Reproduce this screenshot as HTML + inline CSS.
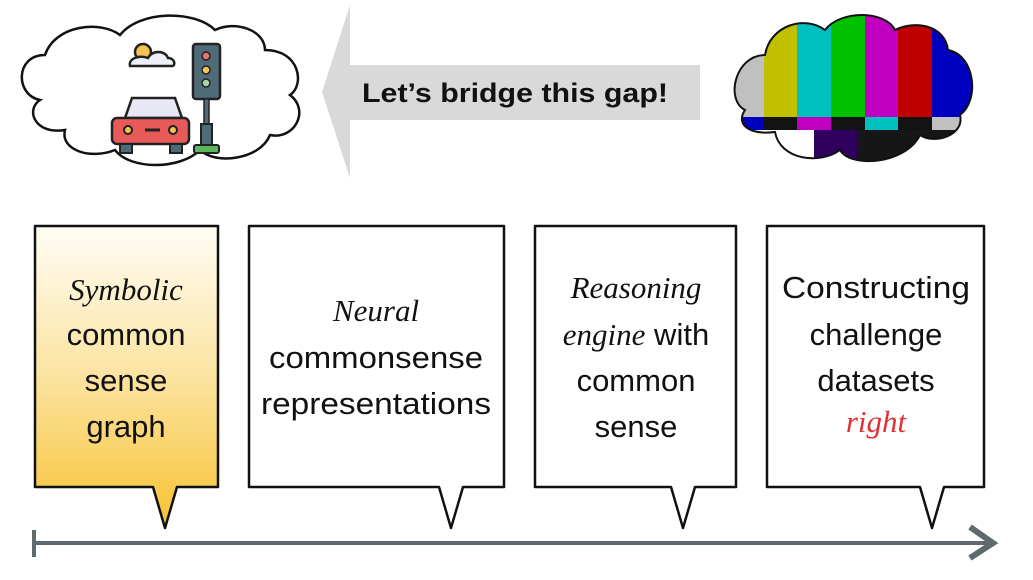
<!DOCTYPE html>
<html><head><meta charset="utf-8"><style>
html,body{margin:0;padding:0;background:#fff;width:1033px;height:580px;overflow:hidden}
.s{font-family:"Liberation Sans",sans-serif;font-size:31px;fill:#111;text-anchor:middle}
.h{font-family:"Liberation Serif",serif;font-style:italic;font-size:31px;fill:#111;text-anchor:middle}
</style></head><body>
<svg width="1033" height="580" viewBox="0 0 1033 580" xmlns="http://www.w3.org/2000/svg">
<defs>
<linearGradient id="g" x1="0" y1="0" x2="0" y2="1">
<stop offset="0" stop-color="#fffdf5"/><stop offset="0.5" stop-color="#fbe3a0"/><stop offset="1" stop-color="#f8c232"/>
</linearGradient>
<clipPath id="cc"><path d="M745,110 C725,100 735,55 765,55 C770,25 805,15 825,30 C840,10 885,10 895,30 C915,20 945,25 948,50 C975,55 980,100 960,115 C965,135 935,145 920,135 C905,165 850,168 840,150 C820,165 780,160 775,132 C750,135 735,125 745,110 Z"/></clipPath>
</defs>
<path d="M40,100 C15,95 15,55 45,55 C55,25 100,20 120,35 C140,10 195,10 215,30 C235,20 265,30 265,50 C300,50 305,85 290,95 C310,110 295,140 270,135 C260,160 215,165 200,150 C180,170 130,170 115,150 C90,160 60,150 65,130 C35,135 25,110 40,100 Z" fill="#fff" stroke="#111" stroke-width="2.5"/>
<circle cx="143" cy="52" r="8" fill="#f6c350" stroke="#222" stroke-width="2.5"/>
<path d="M130,66 C128,58 140,55 148,58 C152,50 165,50 168,58 C175,58 176,66 172,66 Z" fill="#eef0f8" stroke="#222" stroke-width="2.5"/>
<rect x="193" y="44" width="27" height="55" rx="3" fill="#4f6b78" stroke="#222" stroke-width="2.5"/>
<circle cx="206" cy="56" r="4" fill="#e57373" stroke="#222" stroke-width="1.5"/>
<circle cx="206" cy="70" r="4" fill="#f6c350" stroke="#222" stroke-width="1.5"/>
<circle cx="206" cy="83" r="4" fill="#a5d6a7" stroke="#222" stroke-width="1.5"/>
<rect x="204" y="99" width="5" height="25" fill="#4f6b78" stroke="#222" stroke-width="1.5"/>
<rect x="201" y="124" width="11" height="22" fill="#4f6b78" stroke="#222" stroke-width="2"/>
<rect x="194" y="145" width="25" height="8" rx="2" fill="#5cb85c" stroke="#222" stroke-width="2"/>
<path d="M125,118 L132,98 L175,98 L182,118 Z" fill="#e8e8f4" stroke="#222" stroke-width="2.5"/>
<rect x="112" y="118" width="77" height="26" rx="5" fill="#e85a5a" stroke="#222" stroke-width="2.5"/>
<rect x="120" y="144" width="12" height="9" fill="#4f6b78" stroke="#222" stroke-width="2"/>
<rect x="170" y="144" width="12" height="9" fill="#4f6b78" stroke="#222" stroke-width="2"/>
<circle cx="128" cy="130" r="4" fill="#f6c350" stroke="#222" stroke-width="2"/>
<circle cx="173" cy="130" r="4" fill="#f6c350" stroke="#222" stroke-width="2"/>
<line x1="145" y1="130" x2="160" y2="130" stroke="#222" stroke-width="3"/>
<path d="M322,92 L350,5 L350,65 L700,65 L700,120 L350,120 L350,178 Z" fill="#d9d9d9"/>
<text x="362" y="102" font-family="Liberation Sans,sans-serif" font-weight="bold" font-size="27" textLength="306" lengthAdjust="spacingAndGlyphs" fill="#111">Let’s bridge this gap!</text>
<g clip-path="url(#cc)">
<rect x="730" y="0" width="34" height="120" fill="#c0c0c0"/>
<rect x="764" y="0" width="33" height="120" fill="#c0c000"/>
<rect x="797" y="0" width="34" height="120" fill="#00c0c0"/>
<rect x="831" y="0" width="34" height="120" fill="#00c000"/>
<rect x="865" y="0" width="33" height="120" fill="#c000c0"/>
<rect x="898" y="0" width="34" height="120" fill="#c00000"/>
<rect x="932" y="0" width="50" height="120" fill="#0000c0"/>
<rect x="730" y="117" width="34" height="13" fill="#0000c0"/>
<rect x="764" y="117" width="33" height="13" fill="#131313"/>
<rect x="797" y="117" width="34" height="13" fill="#c000c0"/>
<rect x="831" y="117" width="34" height="13" fill="#131313"/>
<rect x="865" y="117" width="33" height="13" fill="#00c0c0"/>
<rect x="898" y="117" width="34" height="13" fill="#131313"/>
<rect x="932" y="117" width="50" height="13" fill="#c0c0c0"/>
<rect x="730" y="130" width="84" height="50" fill="#fff"/>
<rect x="814" y="130" width="43" height="50" fill="#300060"/>
<rect x="857" y="130" width="125" height="50" fill="#161616"/>
</g>
<path d="M745,110 C725,100 735,55 765,55 C770,25 805,15 825,30 C840,10 885,10 895,30 C915,20 945,25 948,50 C975,55 980,100 960,115 C965,135 935,145 920,135 C905,165 850,168 840,150 C820,165 780,160 775,132 C750,135 735,125 745,110 Z" fill="none" stroke="#111" stroke-width="2"/>
<path d="M35,226 H218 V487 H177 L165,528 L153,487 H35 Z" fill="url(#g)" stroke="#111" stroke-width="2.5" stroke-linejoin="round"/>
<path d="M249,226 H504 V487 H463 L451,528 L439,487 H249 Z" fill="#fff" stroke="#111" stroke-width="2.5" stroke-linejoin="round"/>
<path d="M535,226 H736 V487 H695 L683,528 L671,487 H535 Z" fill="#fff" stroke="#111" stroke-width="2.5" stroke-linejoin="round"/>
<path d="M767,226 H984 V487 H944 L932,528 L920,487 H767 Z" fill="#fff" stroke="#111" stroke-width="2.5" stroke-linejoin="round"/>
<line x1="35" y1="543" x2="990" y2="543" stroke="#5f6a6e" stroke-width="4"/>
<line x1="34" y1="530" x2="34" y2="557" stroke="#5f6a6e" stroke-width="4"/>
<polyline points="970,527 993,543 970,558" fill="none" stroke="#5f6a6e" stroke-width="6"/>
<text class="h" x="126" y="300">Symbolic</text>
<text class="s" x="126" y="345">common</text>
<text class="s" x="126" y="391">sense</text>
<text class="s" x="126" y="437">graph</text>
<text class="h" x="376" y="321">Neural</text>
<text class="s" x="376" y="368" textLength="214" lengthAdjust="spacingAndGlyphs">commonsense</text>
<text class="s" x="376" y="414" textLength="230" lengthAdjust="spacingAndGlyphs">representations</text>
<text class="h" x="636" y="298">Reasoning</text>
<text class="s" x="636" y="345"><tspan font-family="Liberation Serif,serif" font-style="italic">engine</tspan> with</text>
<text class="s" x="636" y="391">common</text>
<text class="s" x="636" y="437">sense</text>
<text class="s" x="876" y="298" textLength="188" lengthAdjust="spacingAndGlyphs">Constructing</text>
<text class="s" x="876" y="345">challenge</text>
<text class="s" x="876" y="391">datasets</text>
<text class="h" x="876" y="432" style="fill:#e03030">right</text>
</svg>
</body></html>
